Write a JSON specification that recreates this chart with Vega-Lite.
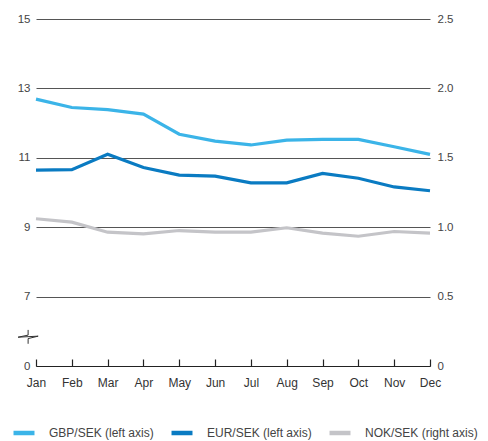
{
  "$schema": "https://vega.github.io/schema/vega-lite/v6.json",
  "width": 394,
  "height": 347,
  "autosize": "none",
  "padding": {"left": 36, "top": 19, "right": 58, "bottom": 75},
  "config": {
    "view": {"stroke": null},
    "font": "Liberation Sans",
    "axis": {"labelFont": "Liberation Sans", "labelColor": "#444444", "labelFontSize": 11.5}
  },
  "datasets": {
    "rates": [
      {"month": "Jan", "series": "GBP/SEK (left axis)", "value": 12.69},
      {"month": "Feb", "series": "GBP/SEK (left axis)", "value": 12.45},
      {"month": "Mar", "series": "GBP/SEK (left axis)", "value": 12.39},
      {"month": "Apr", "series": "GBP/SEK (left axis)", "value": 12.26},
      {"month": "May", "series": "GBP/SEK (left axis)", "value": 11.68},
      {"month": "Jun", "series": "GBP/SEK (left axis)", "value": 11.48},
      {"month": "Jul", "series": "GBP/SEK (left axis)", "value": 11.37},
      {"month": "Aug", "series": "GBP/SEK (left axis)", "value": 11.51},
      {"month": "Sep", "series": "GBP/SEK (left axis)", "value": 11.53},
      {"month": "Oct", "series": "GBP/SEK (left axis)", "value": 11.53},
      {"month": "Nov", "series": "GBP/SEK (left axis)", "value": 11.32},
      {"month": "Dec", "series": "GBP/SEK (left axis)", "value": 11.10},
      {"month": "Jan", "series": "EUR/SEK (left axis)", "value": 10.645},
      {"month": "Feb", "series": "EUR/SEK (left axis)", "value": 10.66},
      {"month": "Mar", "series": "EUR/SEK (left axis)", "value": 11.10},
      {"month": "Apr", "series": "EUR/SEK (left axis)", "value": 10.72},
      {"month": "May", "series": "EUR/SEK (left axis)", "value": 10.50},
      {"month": "Jun", "series": "EUR/SEK (left axis)", "value": 10.47},
      {"month": "Jul", "series": "EUR/SEK (left axis)", "value": 10.28},
      {"month": "Aug", "series": "EUR/SEK (left axis)", "value": 10.28},
      {"month": "Sep", "series": "EUR/SEK (left axis)", "value": 10.55},
      {"month": "Oct", "series": "EUR/SEK (left axis)", "value": 10.41},
      {"month": "Nov", "series": "EUR/SEK (left axis)", "value": 10.16},
      {"month": "Dec", "series": "EUR/SEK (left axis)", "value": 10.05},
      {"month": "Jan", "series": "NOK/SEK (right axis)", "value": 1.061},
      {"month": "Feb", "series": "NOK/SEK (right axis)", "value": 1.036},
      {"month": "Mar", "series": "NOK/SEK (right axis)", "value": 0.964},
      {"month": "Apr", "series": "NOK/SEK (right axis)", "value": 0.952},
      {"month": "May", "series": "NOK/SEK (right axis)", "value": 0.976},
      {"month": "Jun", "series": "NOK/SEK (right axis)", "value": 0.964},
      {"month": "Jul", "series": "NOK/SEK (right axis)", "value": 0.964},
      {"month": "Aug", "series": "NOK/SEK (right axis)", "value": 0.996},
      {"month": "Sep", "series": "NOK/SEK (right axis)", "value": 0.957},
      {"month": "Oct", "series": "NOK/SEK (right axis)", "value": 0.935},
      {"month": "Nov", "series": "NOK/SEK (right axis)", "value": 0.969},
      {"month": "Dec", "series": "NOK/SEK (right axis)", "value": 0.957}
    ],
    "axisbreak": [
      {"i": 0, "pos": -0.22, "level": 6.04},
      {"i": 1, "pos": -0.22, "level": 5.89},
      {"i": 2, "pos": -0.50, "level": 5.83},
      {"i": 3, "pos": 0.06, "level": 5.86},
      {"i": 4, "pos": -0.22, "level": 5.79},
      {"i": 5, "pos": -0.22, "level": 5.64}
    ]
  },
  "data": {"name": "rates"},
  "layer": [
    {
      "transform": [{"filter": "datum.series !== 'NOK/SEK (right axis)'"}],
      "mark": {"type": "line", "strokeWidth": 3.2},
      "encoding": {
        "x": {
          "field": "month",
          "type": "ordinal",
          "sort": null,
          "scale": {"type": "point", "padding": 0},
          "axis": {
            "title": null,
            "labelAngle": 0,
            "domainColor": "#222222",
            "domainWidth": 1.2,
            "tickColor": "#222222",
            "tickSize": -7,
            "tickWidth": 1.2,
            "labelPadding": 18,
            "labelFontSize": 12,
            "labelColor": "#333333"
          }
        },
        "y": {
          "field": "value",
          "type": "quantitative",
          "scale": {"domain": [5, 15], "nice": false, "zero": false},
          "axis": {
            "title": null,
            "values": [5, 7, 9, 11, 13, 15],
            "labelExpr": "datum.value == 5 ? '0' : datum.label",
            "domain": false,
            "ticks": false,
            "labelPadding": 6,
            "grid": true,
            "gridColor": "#555555",
            "gridWidth": 1,
            "gridOpacity": 1
          }
        },
        "color": {
          "field": "series",
          "type": "nominal",
          "scale": {
            "domain": ["GBP/SEK (left axis)", "EUR/SEK (left axis)", "NOK/SEK (right axis)"],
            "range": ["#3bb4e8", "#0a7bc2", "#c4c4c8"]
          },
          "legend": {
            "orient": "none",
            "legendX": -25,
            "legendY": 401,
            "direction": "horizontal",
            "title": null,
            "symbolType": "stroke",
            "symbolStrokeWidth": 4.5,
            "symbolSize": 440,
            "labelFontSize": 12,
            "labelColor": "#444444",
            "labelOffset": 12,
            "columnPadding": 8,
            "labelFont": "Liberation Sans"
          }
        }
      }
    },
    {
      "transform": [{"filter": "datum.series === 'NOK/SEK (right axis)'"}],
      "mark": {"type": "line", "strokeWidth": 3.2},
      "encoding": {
        "x": {
          "field": "month",
          "type": "ordinal",
          "sort": null,
          "scale": {"type": "point", "padding": 0},
          "axis": null
        },
        "y": {
          "field": "value",
          "type": "quantitative",
          "scale": {"domain": [0, 2.5], "nice": false, "zero": false},
          "axis": {
            "title": null,
            "orient": "right",
            "values": [0, 0.5, 1, 1.5, 2, 2.5],
            "labelExpr": "datum.value == 0 ? '0' : format(datum.value, '.1f')",
            "domain": false,
            "ticks": false,
            "labelPadding": 7,
            "grid": false
          }
        },
        "color": {
          "field": "series",
          "type": "nominal",
          "scale": {
            "domain": ["GBP/SEK (left axis)", "EUR/SEK (left axis)", "NOK/SEK (right axis)"],
            "range": ["#3bb4e8", "#0a7bc2", "#c4c4c8"]
          }
        }
      }
    },
    {
      "data": {"name": "axisbreak"},
      "mark": {"type": "line", "strokeWidth": 1, "color": "#333333", "clip": false},
      "encoding": {
        "x": {"field": "pos", "type": "quantitative", "scale": {"domain": [0, 11], "nice": false, "zero": false}, "axis": null},
        "y": {"field": "level", "type": "quantitative", "scale": {"domain": [5, 15], "nice": false, "zero": false}, "axis": null},
        "order": {"field": "i", "type": "quantitative"}
      }
    }
  ],
  "resolve": {"scale": {"y": "independent", "x": "independent"}}
}
